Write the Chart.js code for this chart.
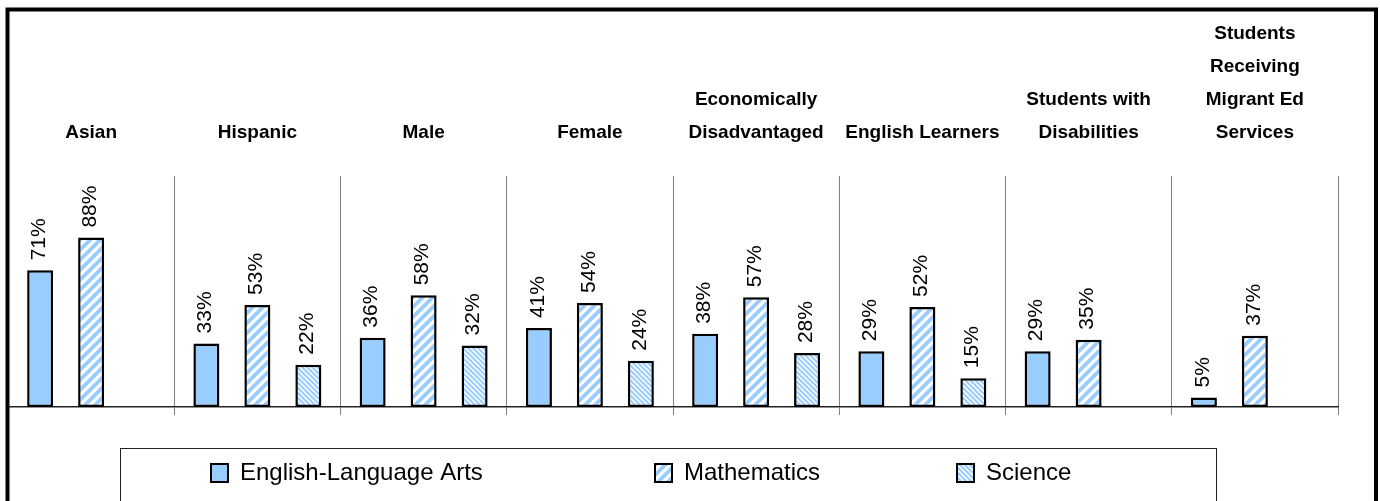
<!DOCTYPE html>
<html>
<head>
<meta charset="utf-8">
<script src="https://cdn.jsdelivr.net/npm/chart.js@4.4.1/dist/chart.umd.min.js"></script>
<style>
  html, body { margin: 0; padding: 0; background: #fff; }
</style>
</head>
<body>
<canvas id="chart" width="1380" height="501"></canvas>
<script>
// chart data
const categories = [
    ['Asian'],
    ['Hispanic'],
    ['Male'],
    ['Female'],
    ['Economically', 'Disadvantaged'],
    ['English Learners'],
    ['Students with', 'Disabilities'],
    ['Students', 'Receiving', 'Migrant Ed', 'Services']
];
const seriesNames = ['English-Language Arts', 'Mathematics', 'Science'];
const elaValues = [71, 33, 36, 41, 38, 29, 29, 5];
const mathValues = [88, 53, 58, 54, 57, 52, 35, 37];
const scienceValues = [null, 22, 32, 24, 28, 15, null, null];

// the original text is a narrow Arial, use Liberation Sans Narrow if it is there
function hasFont(name) {
    const c = document.createElement('canvas').getContext('2d');
    c.font = '40px monospace';
    const base = c.measureText('mmmwwwiiilll').width;
    c.font = `40px '${name}', monospace`;
    return c.measureText('mmmwwwiiilll').width !== base;
}
const narrow = hasFont('Liberation Sans Narrow');
const family = narrow ? "'Liberation Sans Narrow', 'Liberation Sans', Arial" : "'Liberation Sans', Arial";
const catSize = narrow ? 23 : 19;
const valSize = narrow ? 25 : 21;
const legSize = narrow ? 29 : 24;

const ctx = document.getElementById('chart').getContext('2d');

function stripes(size, width, dir) {
    const c = document.createElement('canvas');
    c.width = c.height = size;
    const g = c.getContext('2d');
    g.fillStyle = '#fff';
    g.fillRect(0, 0, size, size);
    g.strokeStyle = '#99ccff';
    g.lineWidth = width;
    g.beginPath();
    if (dir === '/') {
        g.moveTo(0, size); g.lineTo(size, 0);
        g.moveTo(-size / 2, size / 2); g.lineTo(size / 2, -size / 2);
        g.moveTo(size / 2, size * 1.5); g.lineTo(size * 1.5, size / 2);
    } else {
        g.moveTo(0, 0); g.lineTo(size, size);
        g.moveTo(-size / 2, size / 2); g.lineTo(size / 2, size * 1.5);
        g.moveTo(size / 2, -size / 2); g.lineTo(size * 1.5, size / 2);
    }
    g.stroke();
    return ctx.createPattern(c, 'repeat');
}

const fills = ['#99ccff', stripes(10, 3.8, '/'), stripes(5, 2, '\\')];

// percentage labels, rotated, above each bar
const valueLabels = {
    id: 'valueLabels',
    afterDatasetsDraw(chart) {
        const c = chart.ctx;
        c.save();
        c.font = `${valSize}px ${family}`;
        c.fillStyle = '#000';
        c.textAlign = 'left';
        c.textBaseline = 'middle';
        chart.data.datasets.forEach((ds, i) => {
            chart.getDatasetMeta(i).data.forEach((bar, j) => {
                const v = ds.data[j];
                if (v === null || v === undefined) return;
                c.save();
                c.translate(bar.x - 1, bar.y - 10);
                c.rotate(-Math.PI / 2);
                c.fillText(v + '%', 0, 0);
                c.restore();
            });
        });
        c.restore();
    }
};

// outer frame and the boxed legend under the plot
const frameAndLegend = {
    id: 'frameAndLegend',
    afterDraw(chart) {
        const c = chart.ctx;
        c.save();
        c.strokeStyle = '#000';
        c.lineWidth = 4;
        c.strokeRect(7.5, 9.5, 1368.5, 600);

        c.lineWidth = 1;
        c.strokeStyle = '#222';
        c.strokeRect(120.5, 448.5, 1096, 100);

        const itemX = [211, 655, 957];
        c.font = `${legSize}px ${family}`;
        c.textBaseline = 'middle';
        c.textAlign = 'left';
        chart.data.datasets.forEach((ds, i) => {
            const x = itemX[i];
            c.fillStyle = ds.backgroundColor;
            c.fillRect(x, 464, 17, 18);
            c.lineWidth = 2;
            c.strokeStyle = '#000';
            c.strokeRect(x, 464, 17, 18);
            c.fillStyle = '#000';
            c.fillText(ds.label, x + 29, 473);
        });
        c.restore();
    }
};

new Chart(ctx, {
    type: 'bar',
    data: {
        labels: categories,
        datasets: [elaValues, mathValues, scienceValues].map((vals, i) => ({
            label: seriesNames[i],
            data: vals,
            backgroundColor: fills[i],
            borderColor: '#000',
            borderWidth: 2.5,
            borderSkipped: false,
            categoryPercentage: 0.92,
            barPercentage: 0.51
        }))
    },
    options: {
        responsive: false,
        animation: false,
        layout: { padding: { left: 8, right: 42, top: 0, bottom: 0 } },
        plugins: {
            legend: { display: false },
            tooltip: { enabled: false }
        },
        scales: {
            x: {
                position: 'bottom',
                grid: { display: true, color: '#808080', lineWidth: 1, offset: true, drawTicks: true, tickLength: 8 },
                border: { display: true, color: '#222', width: 1.5 },
                ticks: { display: false },
                afterFit: (scale) => { scale.height = 94; }
            },
            xTop: {
                type: 'category',
                position: 'top',
                offset: true,
                grid: { display: false },
                border: { display: false },
                ticks: {
                    autoSkip: false,
                    maxRotation: 0,
                    padding: 19,
                    color: '#000',
                    font: { family: family, size: catSize, weight: 'bold', lineHeight: '33px' }
                },
                afterFit: (scale) => { scale.height = 176; }
            },
            y: {
                display: false,
                min: 0,
                max: 120
            }
        }
    },
    plugins: [valueLabels, frameAndLegend]
});
</script>
</body>
</html>
